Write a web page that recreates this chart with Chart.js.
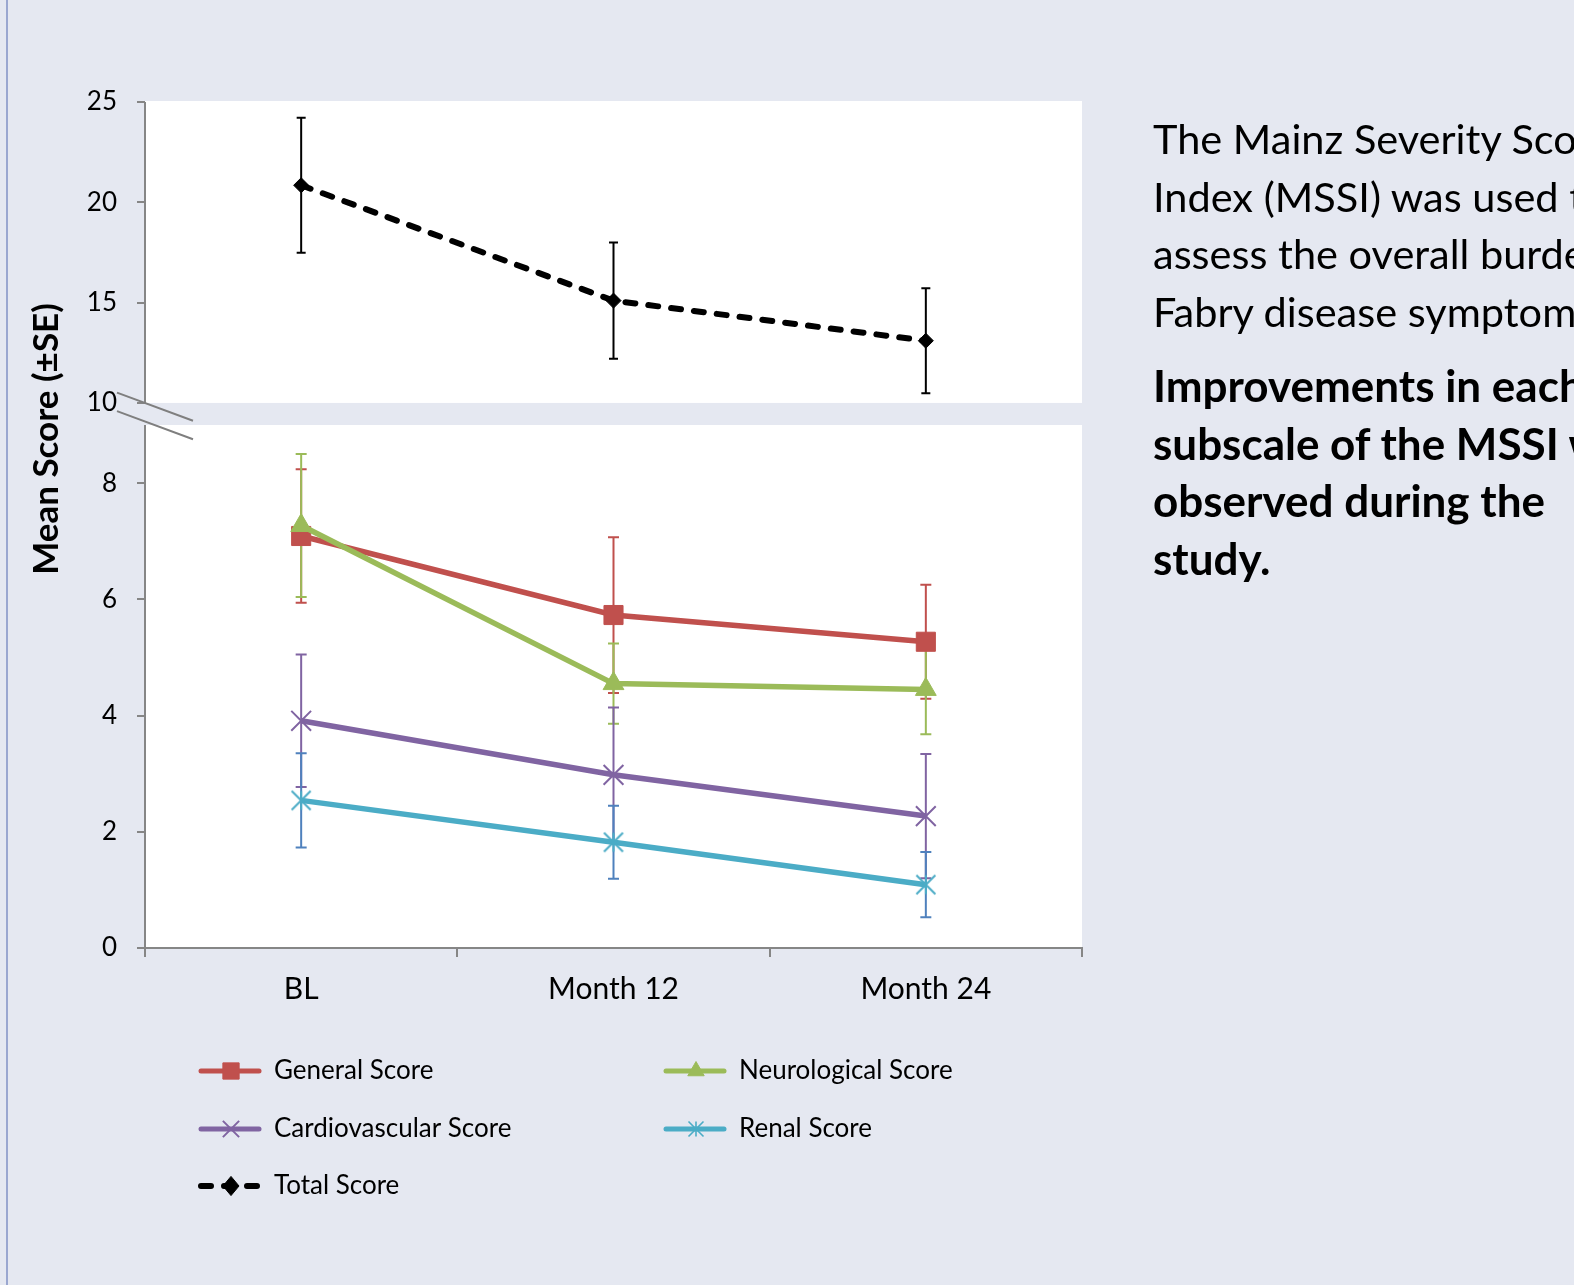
<!DOCTYPE html>
<html>
<head>
<meta charset="utf-8">
<title>MSSI scores</title>
<script src="https://cdn.jsdelivr.net/npm/chart.js@4.4.1/dist/chart.umd.min.js"></script>
<style>
  html, body { margin: 0; padding: 0; width: 1574px; height: 1285px; overflow: hidden; background: #e5e8f1; }
  #wrap { position: relative; width: 1574px; height: 1285px; overflow: hidden; }
  #edge { position: absolute; left: 6px; top: 0; width: 2px; height: 1285px; background: #9aa7d0; }
  #chart { position: absolute; left: 0; top: 0; }
  #note { position: absolute; left: 1153px; top: 110px; font-family: Lato, "Open Sans", sans-serif; font-size: 41.5px;
          line-height: 57.7px; white-space: nowrap; color: #000; }
  #note p { margin: 0; }
  #note p.key { margin-top: 16px; font-weight: bold; font-size: 44px; }
</style>
</head>
<body>
<div id="wrap">
  <div id="edge"></div>
  <canvas id="chart" width="1574" height="1285"></canvas>
  <div id="note">
    <p>The Mainz Severity Score<br>Index (MSSI) was used to<br>assess the overall burden of<br>Fabry disease symptoms.</p>
    <p class="key">Improvements in each<br>subscale of the MSSI were<br>observed during the<br>study.</p>
  </div>
</div>
<script>
// Visits
const categories = ['BL', 'Month 12', 'Month 24'];

// Subscale means and standard errors (lower panel)
const generalMean = [7.09, 5.73, 5.27];
const generalSE   = [1.15, 1.34, 0.98];
const neuroMean   = [7.27, 4.55, 4.45];
const neuroSE     = [1.23, 0.69, 0.77];
const cardioMean  = [3.91, 2.98, 2.27];
const cardioSE    = [1.14, 1.16, 1.07];
const renalMean   = [2.54, 1.82, 1.09];
const renalSE     = [0.81, 0.63, 0.56];

// Total score (upper panel)
const totalMean = [20.85, 15.1, 13.1];
const totalSE   = [3.37, 2.9, 2.62];

// Tick labels of the broken value axis
const upperTicks = [10, 15, 20, 25];
const lowerTicks = [0, 2, 4, 6, 8];

const FONT = 'Lato, "Open Sans", sans-serif';
const AXIS_GREY = '#868686';

// Asterisk marker (X with a vertical stroke)
function asteriskMarker(size, half, color, width) {
  const c = document.createElement('canvas');
  c.width = size; c.height = size;
  const g = c.getContext('2d');
  const m = size / 2;
  g.strokeStyle = color; g.lineWidth = width;
  g.beginPath();
  g.moveTo(m - half, m - half); g.lineTo(m + half, m + half);
  g.moveTo(m + half, m - half); g.lineTo(m - half, m + half);
  g.moveTo(m, m - half); g.lineTo(m, m + half);
  g.stroke();
  return c;
}

const renalColor = '#4bacc6';
const renalMarker = asteriskMarker(24, 9.5, renalColor, 2);
const renalMarkerSmall = asteriskMarker(20, 7.5, renalColor, 1.6);

function series(label, data, errors, color, errorColor, yAxisID, extra) {
  return Object.assign({
    label, data, errors, errorColor, yAxisID,
    borderColor: color, backgroundColor: color,
    pointBackgroundColor: color, pointBorderColor: color,
    borderWidth: 5.5, tension: 0, fill: false,
    errorWidth: 2, errorCap: 5.5
  }, extra);
}

const datasets = [
  series('General Score', generalMean, generalSE, '#c0504d', '#c0504d', 'yLow',
    { pointStyle: 'rect', pointRadius: 13.5, pointBorderWidth: 1, order: 5, legendRadius: 11.5 }),
  series('Neurological Score', neuroMean, neuroSE, '#9bbb59', '#9bbb59', 'yLow',
    { pointStyle: 'triangle', pointRadius: 12, pointBorderWidth: 1, order: 4, legendRadius: 9.5 }),
  series('Cardiovascular Score', cardioMean, cardioSE, '#8064a2', '#8064a2', 'yLow',
    { pointStyle: 'crossRot', pointRadius: 14, pointBorderWidth: 2, order: 3, legendRadius: 11.5 }),
  series('Renal Score', renalMean, renalSE, renalColor, '#4f81bd', 'yLow',
    { pointStyle: renalMarker, pointRadius: 12, pointBorderWidth: 2, order: 2, legendImage: renalMarkerSmall }),
  series('Total Score', totalMean, totalSE, '#000000', '#000000', 'yTop',
    { pointStyle: 'rectRot', pointRadius: 7.5, pointBorderWidth: 1, order: 1, legendRadius: 8,
      borderWidth: 6, borderDash: [10, 13], borderCapStyle: 'round', errorCap: 4.5 })
];

// White plot panels, drawn under everything else
const panels = {
  id: 'panels',
  beforeDraw(chart) {
    const { ctx, chartArea } = chart;
    const top = chart.scales.yTop, low = chart.scales.yLow;
    const w = chartArea.right - chartArea.left;
    ctx.save();
    ctx.fillStyle = '#ffffff';
    const t0 = top.getPixelForValue(upperTicks[upperTicks.length - 1]);
    const t1 = top.getPixelForValue(upperTicks[0]);
    ctx.fillRect(chartArea.left, t0 - 1, w, t1 - t0 + 1);
    const l0 = low.getPixelForValue(low.max);
    const l1 = low.getPixelForValue(0);
    ctx.fillRect(chartArea.left, l0, w, l1 - l0);
    ctx.restore();
  },
  afterDraw(chart) {
    const { ctx, chartArea } = chart;
    const top = chart.scales.yTop, low = chart.scales.yLow;
    const x = chartArea.left;
    ctx.save();
    ctx.strokeStyle = AXIS_GREY;
    ctx.lineWidth = 2;
    // value axis lines of both panels
    ctx.beginPath();
    ctx.moveTo(x, top.getPixelForValue(upperTicks[upperTicks.length - 1]));
    ctx.lineTo(x, top.getPixelForValue(upperTicks[0]));
    ctx.moveTo(x, low.getPixelForValue(low.max));
    ctx.lineTo(x, low.getPixelForValue(0));
    ctx.stroke();
    // axis break marks
    const slope = 0.37;
    const ya = top.getPixelForValue(upperTicks[0]);
    const yb = low.getPixelForValue(low.max) - 3.5;
    ctx.strokeStyle = '#7f7f7f';
    ctx.lineWidth = 2;
    ctx.beginPath();
    for (const y of [ya, yb]) {
      ctx.moveTo(x - 28, y - 28 * slope);
      ctx.lineTo(x + 48, y + 48 * slope);
    }
    ctx.stroke();
    ctx.restore();
  }
};

// Vertical ±SE bars with caps
const errorBars = {
  id: 'errorBars',
  beforeDatasetsDraw(chart) {
    const ctx = chart.ctx;
    chart.data.datasets.forEach((ds, i) => {
      const meta = chart.getDatasetMeta(i);
      const ys = chart.scales[ds.yAxisID];
      ctx.save();
      ctx.strokeStyle = ds.errorColor;
      ctx.lineWidth = ds.errorWidth;
      ctx.beginPath();
      meta.data.forEach((pt, j) => {
        const v = ds.data[j], e = ds.errors[j];
        const yHi = ys.getPixelForValue(v + e);
        const yLo = ys.getPixelForValue(v - e);
        const c = ds.errorCap;
        ctx.moveTo(pt.x, yHi); ctx.lineTo(pt.x, yLo);
        ctx.moveTo(pt.x - c, yHi); ctx.lineTo(pt.x + c, yHi);
        ctx.moveTo(pt.x - c, yLo); ctx.lineTo(pt.x + c, yLo);
      });
      ctx.stroke();
      ctx.restore();
    });
  }
};

function drawMarker(ctx, ds, x, y) {
  const style = ds.pointStyle;
  ctx.save();
  ctx.fillStyle = ds.pointBackgroundColor;
  ctx.strokeStyle = ds.pointBorderColor;
  ctx.lineWidth = ds.pointBorderWidth;
  ctx.setLineDash([]);
  if (typeof style !== 'string') {
    const img = ds.legendImage || style;
    ctx.drawImage(img, x - img.width / 2, y - img.height / 2);
    ctx.restore();
    return;
  }
  const r = ds.legendRadius;
  ctx.beginPath();
  if (style === 'rect') {
    const s = r * Math.SQRT1_2;
    ctx.rect(x - s, y - s, 2 * s, 2 * s);
    ctx.fill(); ctx.stroke();
  } else if (style === 'triangle') {
    for (let k = 0; k < 3; k++) {
      const a = k * 2 * Math.PI / 3;
      const px = x + Math.sin(a) * r, py = y - Math.cos(a) * r;
      k ? ctx.lineTo(px, py) : ctx.moveTo(px, py);
    }
    ctx.closePath(); ctx.fill(); ctx.stroke();
  } else if (style === 'crossRot') {
    const s = r * Math.SQRT1_2;
    ctx.moveTo(x - s, y - s); ctx.lineTo(x + s, y + s);
    ctx.moveTo(x + s, y - s); ctx.lineTo(x - s, y + s);
    ctx.stroke();
  } else if (style === 'rectRot') {
    ctx.moveTo(x - r, y); ctx.lineTo(x, y - r * 1.2); ctx.lineTo(x + r, y); ctx.lineTo(x, y + r * 1.2);
    ctx.closePath(); ctx.fill(); ctx.stroke();
  }
  ctx.restore();
}

// Two-column legend under the category axis
const gridLegend = {
  id: 'gridLegend',
  afterDraw(chart) {
    const ctx = chart.ctx;
    const cols = [198, 663];
    const rows = [1071, 1129, 1186];
    const lineLen = 64;
    chart.data.datasets.forEach((ds, i) => {
      const x = cols[i % 2], y = rows[Math.floor(i / 2)];
      ctx.save();
      ctx.strokeStyle = ds.borderColor;
      ctx.lineWidth = ds.borderDash ? 6 : 5;
      ctx.lineCap = 'round';
      ctx.setLineDash(ds.borderDash ? [10, 13] : []);
      ctx.beginPath();
      ctx.moveTo(x + 3, y); ctx.lineTo(x + lineLen - 3, y);
      ctx.stroke();
      ctx.restore();
      drawMarker(ctx, ds, x + lineLen / 2 + 1, y);
      ctx.save();
      ctx.fillStyle = '#000';
      ctx.font = '26px ' + FONT;
      ctx.textBaseline = 'middle';
      ctx.fillText(ds.label, x + 76, y);
      ctx.restore();
    });
    // value axis title
    ctx.save();
    ctx.translate(47, 439);
    ctx.rotate(-Math.PI / 2);
    ctx.font = 'bold 35px ' + FONT;
    ctx.fillStyle = '#000';
    ctx.textAlign = 'center';
    ctx.textBaseline = 'middle';
    ctx.fillText('Mean Score (\u00B1SE)', 0, 0);
    ctx.restore();
  }
};

const tickFont = { family: FONT, size: 26 };

function valueAxis(min, max, weight, tickValues) {
  return {
    type: 'linear',
    position: 'left',
    stack: 'mssi',
    stackWeight: weight,
    min, max,
    afterBuildTicks(scale) { scale.ticks = tickValues.map(v => ({ value: v })); },
    afterFit(scale) { scale.width = 145; },
    grid: { drawOnChartArea: false, tickLength: 8, color: AXIS_GREY, lineWidth: 2 },
    border: { display: false },
    ticks: { font: tickFont, color: '#000', padding: 20 }
  };
}

new Chart(document.getElementById('chart'), {
  type: 'line',
  data: { labels: categories, datasets },
  options: {
    responsive: false,
    animation: false,
    events: [],
    layout: { padding: { top: 102, right: 492, left: 0, bottom: 0 } },
    plugins: { legend: { display: false }, tooltip: { enabled: false }, title: { display: false } },
    scales: {
      x: {
        type: 'category',
        offset: true,
        afterFit(scale) { scale.height = 337; },
        grid: { offset: true, drawOnChartArea: false, tickLength: 9, color: AXIS_GREY, lineWidth: 2 },
        border: { display: true, color: AXIS_GREY, width: 2 },
        ticks: { font: { family: FONT, size: 30 }, color: '#000', padding: 14, maxRotation: 0 }
      },
      yLow: valueAxis(0, 9, 523, lowerTicks),
      yTop: valueAxis(8.9, 25, 323, upperTicks)
    }
  },
  plugins: [panels, errorBars, gridLegend]
});
</script>
</body>
</html>
